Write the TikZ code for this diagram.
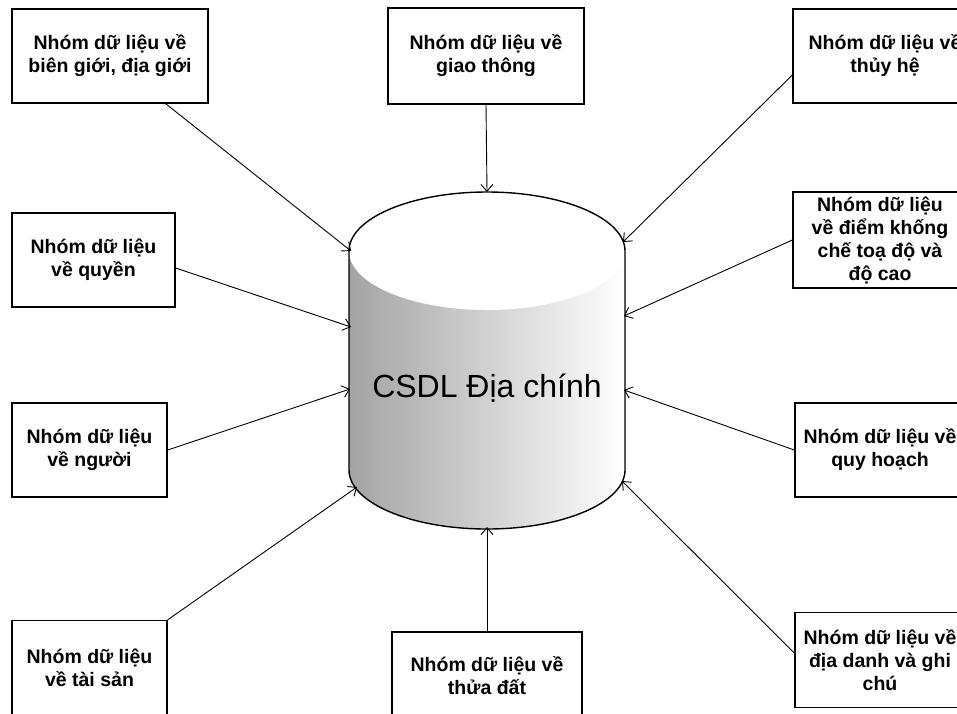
\documentclass[tikz,border=0pt]{standalone}
\usepackage{fontspec}
\setmainfont{Liberation Sans}
\usetikzlibrary{arrows.meta}

\tikzset{
  group/.style={draw, line width=1.4pt, align=center, inner sep=2pt,
    font=\fontsize{19.5}{23}\selectfont\bfseries},
  feed/.style={line width=0.9pt, -{Straight Barb[length=7pt,width=12pt]}}
}

\begin{document}
\begin{tikzpicture}[x=1pt,y=-1pt]
\useasboundingbox (0,0) rectangle (957,713);

% Database cylinder
\shade[left color=black!36, right color=white]
  (349,251) -- (349,470) arc[start angle=180,end angle=360,x radius=138pt,y radius=59pt]
  -- (625,251) -- cycle;
\fill[white] (487,251) ellipse [x radius=138pt, y radius=59pt];
\draw[line width=1.4pt] (349,470) -- (349,251)
  arc[start angle=180,end angle=0,x radius=138pt,y radius=59pt]
  -- (625,470) arc[start angle=0,end angle=-180,x radius=138pt,y radius=59pt];
\node (db) at (487,388) {\fontsize{32}{38}\selectfont CSDL Địa chính};

% Points on the cylinder
\coordinate (db-n)   at (487,192);
\coordinate (db-nw)  at (351,251);
\coordinate (db-w)   at (351,327);
\coordinate (db-sw)  at (350,389);
\coordinate (db-ssw) at (357,487);
\coordinate (db-s)   at (487,527);
\coordinate (db-sse) at (622,481);
\coordinate (db-se)  at (624,390);
\coordinate (db-e)   at (624,316);
\coordinate (db-ne)  at (623,242);

% Data groups
\node[group, minimum width=196pt, minimum height=94pt] (tl) at (110,56)
  {Nhóm dữ liệu về\\biên giới, địa giới};
\node[group, minimum width=196pt, minimum height=96pt] (tm) at (486,56)
  {Nhóm dữ liệu về\\giao thông};
\node[group, minimum width=184pt, minimum height=94pt] (tr) at (885,56)
  {Nhóm dữ liệu về\\thủy hệ};
\node[group, minimum width=174pt, minimum height=96pt] (rb) at (880,240)
  {Nhóm dữ liệu\\về điểm khống\\chế toạ độ và\\độ cao};
\node[group, minimum width=170pt, minimum height=94pt] (rc) at (880,450)
  {Nhóm dữ liệu về\\quy hoạch};
\node[group, minimum width=170pt, minimum height=95pt] (rd) at (880,660)
  {Nhóm dữ liệu về\\địa danh và ghi\\chú};
\node[group, minimum width=190pt, minimum height=88pt] (bm) at (487,676)
  {Nhóm dữ liệu về\\thửa đất};
\node[group, minimum width=155pt, minimum height=95pt] (bl) at (89.5,668)
  {Nhóm dữ liệu\\về tài sản};
\node[group, minimum width=155pt, minimum height=94pt] (lc) at (89.5,450)
  {Nhóm dữ liệu\\về người};
\node[group, minimum width=163pt, minimum height=94pt] (lb) at (93.5,260)
  {Nhóm dữ liệu\\về quyền};

% Arrows into the database
\draw[feed] ([xshift=-43pt]tl.south east) -- (db-nw);
\draw[feed] (tm.south) -- (db-n);
\draw[feed] ([yshift=-19pt]tr.west) -- (db-ne);
\draw[feed] (rb.west) -- (db-e);
\draw[feed] (rc.west) -- (db-se);
\draw[feed] ([yshift=7pt]rd.west) -- (db-sse);
\draw[feed] (bm.north) -- (db-s);
\draw[feed] (bl.north east) -- (db-ssw);
\draw[feed] (lc.east) -- (db-sw);
\draw[feed] ([yshift=-8pt]lb.east) -- (db-w);
\end{tikzpicture}
\end{document}
